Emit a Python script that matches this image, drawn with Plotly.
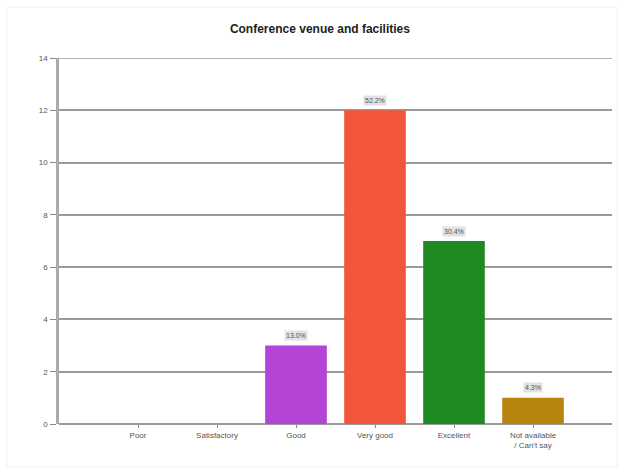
import plotly.graph_objects as go

categories = ["Poor", "Satisfactory", "Good", "Very good", "Excellent", "Not available<br>/ Can't say"]
counts = [0, 0, 3, 12, 7, 1]
colors = ["#999999", "#999999", "#B444D6", "#F2553A", "#1F8A22", "#B88410"]
y_ticks = [0, 2, 4, 6, 8, 10, 12, 14]

total = sum(counts)
labels = [f"{c / total * 100:.1f}%" for c in counts]

W, H = 620, 470
L, R, T, B = 59, 8, 58, 46

fig = go.Figure()
fig.add_trace(go.Bar(
    x=categories, y=counts, width=0.78,
    marker=dict(color=colors, line=dict(width=0)),
    hoverinfo="x+y",
))

for cat, c, lab in zip(categories, counts, labels):
    if c > 0:
        fig.add_annotation(
            x=cat, y=c, text=lab, showarrow=False, yshift=10,
            font=dict(family="Arial, Liberation Sans, sans-serif", size=7, color="#555555"),
            bgcolor="#E2E2E2", borderpad=1,
        )

pw = W - L - R
ph = H - T - B
fig.add_shape(type="rect", xref="paper", yref="paper",
              x0=(7 - L) / pw, x1=(617 - L) / pw, y0=(H - B - 467) / ph, y1=(H - B - 7) / ph,
              line=dict(color="#F0F0F0", width=1), layer="below")
fig.add_shape(type="line", xref="paper", yref="y", x0=0, x1=1, y0=max(y_ticks), y1=max(y_ticks),
              line=dict(color="#9A9A9A", width=1.5), layer="below")

fig.update_layout(
    width=W, height=H,
    margin=dict(l=L, r=R, t=T, b=B),
    paper_bgcolor="white", plot_bgcolor="white",
    title=dict(text="<b>Conference venue and facilities</b>", x=0.516, xanchor="center",
               y=1 - 29 / H, yanchor="middle",
               font=dict(family="Arial, Liberation Sans, sans-serif", size=12, color="#222222")),
    showlegend=False,
    bargap=0.22,
    font=dict(family="Arial, Liberation Sans, sans-serif", size=8, color="#555555"),
)
fig.update_xaxes(
    type="category", categoryorder="array", categoryarray=categories,
    range=[-1, 6], showgrid=False, showline=False, ticks="outside", ticklen=3,
    tickcolor="#888888", tickfont=dict(size=8, color="#555555"), zeroline=False,
)
fig.update_yaxes(
    range=[0, 14], tickvals=y_ticks, showgrid=True, gridcolor="#9A9A9A", gridwidth=1.5,
    showline=True, linecolor="#AAAAAA", linewidth=2.5, ticks="outside", ticklen=6,
    tickcolor="#888888", tickfont=dict(size=8, color="#555555"), zeroline=True,
    zerolinecolor="#9A9A9A", zerolinewidth=2, ticklabelstandoff=1,
)

fig.write_html("out.html")
